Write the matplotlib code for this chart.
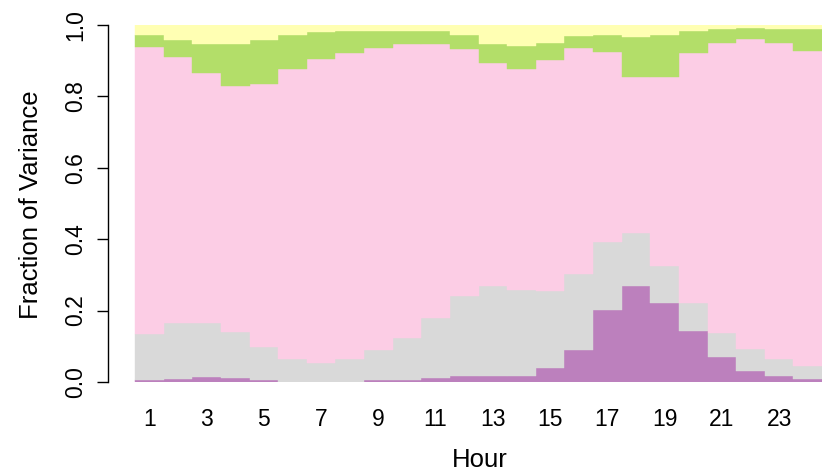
import matplotlib
matplotlib.use("Agg")
import matplotlib.pyplot as plt
import numpy as np

hours = list(range(1, 25))
purple = [0.005,0.009,0.013,0.010,0.005,0.001,0.001,0.001,0.005,0.005,0.010,0.017,
          0.017,0.017,0.038,0.090,0.202,0.269,0.220,0.143,0.069,0.031,0.017,0.008]
gray = [0.129,0.155,0.151,0.129,0.094,0.063,0.052,0.063,0.085,0.119,0.170,0.223,
        0.252,0.242,0.217,0.213,0.190,0.149,0.105,0.077,0.069,0.061,0.047,0.038]
pink = [0.805,0.745,0.702,0.689,0.737,0.813,0.853,0.857,0.846,0.823,0.767,0.693,
        0.625,0.618,0.648,0.633,0.533,0.436,0.529,0.701,0.812,0.869,0.886,0.882]
green = [0.034,0.049,0.082,0.120,0.122,0.096,0.074,0.063,0.048,0.037,0.036,0.038,
         0.053,0.064,0.047,0.032,0.048,0.112,0.118,0.062,0.038,0.031,0.038,0.060]
yellow = [0.027,0.042,0.052,0.052,0.042,0.027,0.020,0.016,0.016,0.016,0.017,0.029,
          0.053,0.059,0.050,0.032,0.027,0.034,0.028,0.017,0.012,0.008,0.012,0.012]
series = [purple, gray, pink, green, yellow]
colors = ["#BC80BD", "#D9D9D9", "#FCCDE5", "#B3DE69", "#FFFFB3"]
xtick_labels = [str(h) for h in range(1, 24, 2)]
yticks = [0.0, 0.2, 0.4, 0.6, 0.8, 1.0]

plt.rcParams['font.family'] = ['Liberation Sans', 'DejaVu Sans']

W, H = 826, 471
fig = plt.figure(figsize=(W/100, H/100), dpi=100)
left_px, right_px, top_px, bot_px = 108, 822, 25, 382
ax = fig.add_axes([left_px/W, 1 - bot_px/H, (right_px-left_px)/W, (bot_px-top_px)/H])

x = np.arange(len(hours))
bottom = np.zeros(len(hours))
for vals, c in zip(series, colors):
    v = np.array(vals)
    ax.bar(x + 0.5, v, width=1.0, bottom=bottom, color=c, edgecolor=c, linewidth=0.3)
    bottom += v

bar_w_px = 28.6
xmin = -(135 - left_px) / bar_w_px
ax.set_xlim(xmin, 24)
ax.set_ylim(0, 1)

for s in ['top', 'right', 'bottom']:
    ax.spines[s].set_visible(False)
ax.spines['left'].set_bounds(0, 1)
ax.spines['left'].set_linewidth(1.0)

ax.set_yticks(yticks)
ax.set_yticklabels([f"{t:.1f}" for t in yticks], rotation=90, va='center', fontsize=16.5)
ax.tick_params(axis='y', length=8, width=1.0, pad=7)

ax.set_xticks([h - 0.5 for h in range(1, 24, 2)])
ax.set_xticklabels(xtick_labels, fontsize=16.5)
ax.tick_params(axis='x', length=0, pad=19)

fig.text(480/W, 1 - 467/H, "Hour", fontsize=18.5, ha='center', va='baseline')
fig.text(31/W, 1 - 205/H, "Fraction of Variance", fontsize=18.5, rotation=90,
         ha='center', va='center')

fig.savefig("out.png", dpi=100)
